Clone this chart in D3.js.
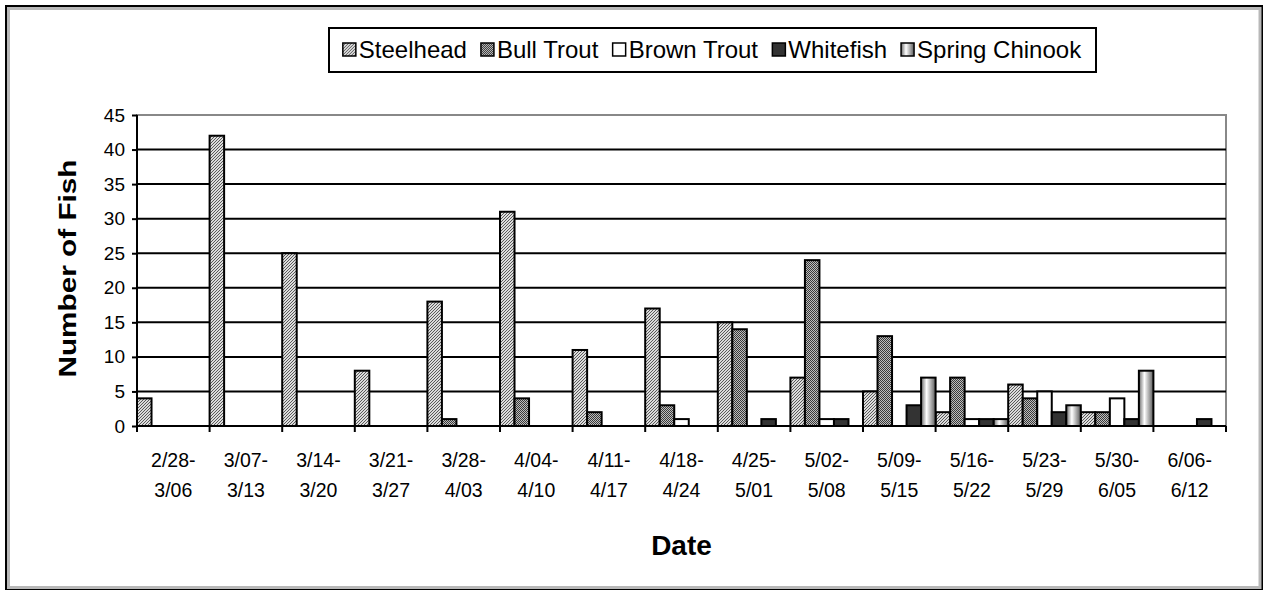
<!DOCTYPE html>
<html>
<head>
<meta charset="utf-8">
<script src="https://cdn.jsdelivr.net/npm/d3@7/dist/d3.min.js"></script>
<style>
  html, body { margin: 0; padding: 0; background: #fff; }
  svg { display: block; font-family: "Liberation Sans", Arial, sans-serif; }
</style>
</head>
<body>
<svg id="chart" width="1265" height="590"></svg>
<script>
// Weekly trap counts by species
const categories = ["2/28-|3/06", "3/07-|3/13", "3/14-|3/20", "3/21-|3/27", "3/28-|4/03",
  "4/04-|4/10", "4/11-|4/17", "4/18-|4/24", "4/25-|5/01", "5/02-|5/08", "5/09-|5/15",
  "5/16-|5/22", "5/23-|5/29", "5/30-|6/05", "6/06-|6/12"];
const seriesNames = ["Steelhead", "Bull Trout", "Brown Trout", "Whitefish", "Spring Chinook"];
const steelhead     = [4, 42, 25, 8, 18, 31, 11, 17, 15, 7, 5, 2, 6, 2, 0];
const bullTrout     = [0, 0, 0, 0, 1, 4, 2, 3, 14, 24, 13, 7, 4, 2, 0];
const brownTrout    = [0, 0, 0, 0, 0, 0, 0, 1, 0, 1, 0, 1, 5, 4, 0];
const whitefish     = [0, 0, 0, 0, 0, 0, 0, 0, 1, 1, 3, 1, 2, 1, 1];
const springChinook = [0, 0, 0, 0, 0, 0, 0, 0, 0, 0, 7, 1, 3, 8, 0];
const yTicks = [0, 5, 10, 15, 20, 25, 30, 35, 40, 45];

const seriesValues = [steelhead, bullTrout, brownTrout, whitefish, springChinook];
const fills = ["url(#hatch)", "url(#dots)", "#ffffff", "#333333", "url(#chinook)"];

const svg = d3.select("#chart");
const W = 1265, H = 590;

// fill patterns
const defs = svg.append("defs");
const hatch = defs.append("pattern").attr("id", "hatch")
  .attr("patternUnits", "userSpaceOnUse").attr("width", 3).attr("height", 3);
hatch.append("rect").attr("width", 3).attr("height", 3).attr("fill", "#dcdcdc");
hatch.append("path").attr("d", "M0,3 L3,0 M-1,1 L1,-1 M2,4 L4,2")
  .attr("stroke", "#5a5a5a").attr("stroke-width", 1);

const dots = defs.append("pattern").attr("id", "dots")
  .attr("patternUnits", "userSpaceOnUse").attr("width", 2).attr("height", 2);
dots.append("rect").attr("width", 2).attr("height", 2).attr("fill", "#bdbdbd");
dots.append("rect").attr("width", 1).attr("height", 1).attr("fill", "#3a3a3a");
dots.append("rect").attr("x", 1).attr("y", 1).attr("width", 1).attr("height", 1).attr("fill", "#3a3a3a");

const grad = defs.append("linearGradient").attr("id", "chinook")
  .attr("x1", "0%").attr("x2", "100%").attr("y1", "0%").attr("y2", "0%");
grad.append("stop").attr("offset", "0%").attr("stop-color", "#6a6a6a");
grad.append("stop").attr("offset", "38%").attr("stop-color", "#ffffff");
grad.append("stop").attr("offset", "100%").attr("stop-color", "#5a5a5a");

// outer frame
svg.append("rect").attr("x", 6).attr("y", 6).attr("width", W - 9).attr("height", H - 6)
  .attr("fill", "none").attr("stroke", "#000").attr("stroke-width", 2);
svg.append("rect").attr("x", 8.5).attr("y", 8.5).attr("width", W - 13.5).attr("height", H - 11)
  .attr("fill", "none").attr("stroke", "#b8b8b8").attr("stroke-width", 3);

// plot area
const pLeft = 137, pRight = 1226, pTop = 115, pBottom = 426;
const x = d3.scaleBand().domain(d3.range(categories.length)).range([pLeft, pRight]).padding(0);
const xs = d3.scaleBand().domain(d3.range(seriesNames.length)).range([0, x.bandwidth()]).padding(0);
const y = d3.scaleLinear().domain([0, 45]).range([pBottom, pTop]);

// plot border
svg.append("rect").attr("x", pLeft).attr("y", pTop).attr("width", pRight - pLeft).attr("height", pBottom - pTop)
  .attr("fill", "none").attr("stroke", "#888").attr("stroke-width", 2);

// gridlines
svg.append("g").selectAll("line").data(yTicks.filter(d => d > 0 && d < 45)).join("line")
  .attr("x1", pLeft).attr("x2", pRight)
  .attr("y1", d => y(d)).attr("y2", d => y(d))
  .attr("stroke", "#000").attr("stroke-width", 2);

// bars
const groups = svg.append("g").selectAll("g").data(seriesNames).join("g");
groups.each(function(name, si) {
  d3.select(this).selectAll("rect")
    .data(seriesValues[si].map((v, ci) => ({ v, ci })).filter(d => d.v > 0))
    .join("rect")
    .attr("x", d => x(d.ci) + xs(si))
    .attr("y", d => y(d.v))
    .attr("width", xs.bandwidth())
    .attr("height", d => y(0) - y(d.v))
    .attr("fill", fills[si])
    .attr("stroke", "#000").attr("stroke-width", 2);
});

// y axis
const yAxis = svg.append("g").attr("transform", `translate(${pLeft},0)`)
  .call(d3.axisLeft(y).tickValues(yTicks).tickSize(5).tickPadding(7));
yAxis.select(".domain").attr("stroke", "#000").attr("stroke-width", 2)
  .attr("d", `M0,${pTop}V${pBottom}`);
yAxis.selectAll(".tick line").attr("stroke", "#000").attr("stroke-width", 2);
yAxis.selectAll(".tick text").attr("font-size", 19).attr("fill", "#000")
  .attr("font-family", "Liberation Sans, Arial, sans-serif");

// x axis
const xAxisG = svg.append("g").attr("transform", `translate(0,${pBottom})`);
xAxisG.append("line").attr("x1", pLeft).attr("x2", pRight).attr("stroke", "#000").attr("stroke-width", 2);
xAxisG.selectAll("line.tk").data(d3.range(categories.length + 1)).join("line").attr("class", "tk")
  .attr("x1", i => i < categories.length ? x(i) : pRight)
  .attr("x2", i => i < categories.length ? x(i) : pRight)
  .attr("y1", 0).attr("y2", 6).attr("stroke", "#000").attr("stroke-width", 2);
const lbl = xAxisG.selectAll("text").data(categories).join("text")
  .attr("text-anchor", "middle").attr("font-size", 19.5).attr("fill", "#000");
lbl.each(function(c, i) {
  const parts = c.split("|");
  const t = d3.select(this);
  const cx = x(i) + x.bandwidth() / 2;
  t.append("tspan").attr("x", cx).attr("y", 41).text(parts[0]);
  t.append("tspan").attr("x", cx).attr("y", 71).text(parts[1]);
});

// axis titles
svg.append("text").attr("x", (pLeft + pRight) / 2).attr("y", 555)
  .attr("text-anchor", "middle").attr("font-size", 28).attr("font-weight", "bold").text("Date");
svg.append("text").attr("transform", `translate(76,${(pTop + pBottom) / 2 - 2}) rotate(-90)`)
  .attr("text-anchor", "middle").attr("font-size", 24).attr("font-weight", "bold")
  .attr("textLength", 218).attr("lengthAdjust", "spacingAndGlyphs").text("Number of Fish");

// legend
const legend = svg.append("g");
const box = { x: 329, y: 28, w: 767, h: 44 };
legend.append("rect").attr("x", box.x).attr("y", box.y).attr("width", box.w).attr("height", box.h)
  .attr("fill", "#fff").attr("stroke", "#000").attr("stroke-width", 2);
const items = legend.selectAll("g").data(seriesNames).join("g");
items.append("rect").attr("width", 13).attr("height", 13).attr("y", -15)
  .attr("fill", (d, i) => fills[i]).attr("stroke", "#000").attr("stroke-width", 1.5);
items.append("text").attr("x", 16).attr("font-size", 24).attr("fill", "#000").text(d => d);
let widths = [];
items.each(function() { widths.push(this.getBBox().width); });
const gap = 14;
const total = d3.sum(widths) + gap * (widths.length - 1);
let cursor = box.x + (box.w - total) / 2;
items.attr("transform", (d, i) => {
  const tx = cursor; cursor += widths[i] + gap;
  return `translate(${tx},${box.y + 30})`;
});
</script>
</body>
</html>
